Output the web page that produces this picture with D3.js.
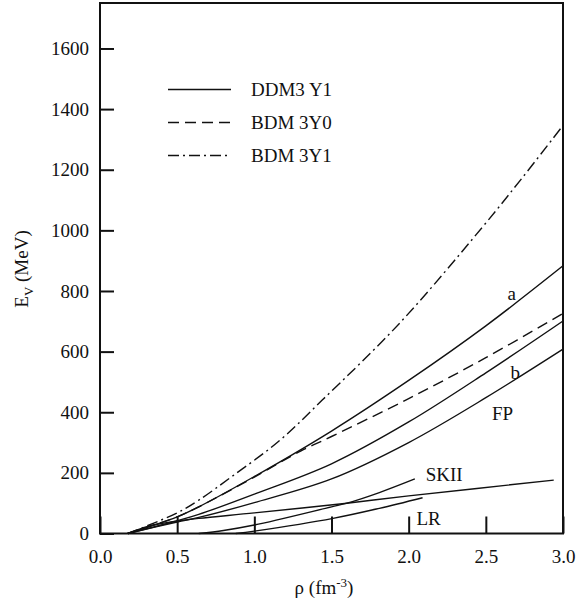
<!DOCTYPE html>
<html>
<head>
<meta charset="utf-8">
<script src="https://cdn.jsdelivr.net/npm/d3@7"></script>
<style>
  body { margin: 0; background: #fff; }
  svg { font-family: "Liberation Serif", "DejaVu Serif", serif; }
  .curve { fill: none; stroke: #111; stroke-width: 1.4; }
  .tick text { font-size: 19px; fill: #111; font-family: "Liberation Serif", serif; }
  .tick line { stroke: #111; stroke-width: 2; }
</style>
</head>
<body>
<svg id="main-svg" width="577" height="600"></svg>
<script>
// values: density rho (fm^-3) and E_V (MeV)
const aRho = [0.18, 0.5, 0.64, 1.0, 1.5, 2.0, 2.5, 3.0];
const aE   = [0, 55, 88, 188, 338, 505, 685, 883];

const bRho = [0.18, 0.5, 0.64, 1.0, 1.5, 2.0, 2.5, 3.0];
const bE   = [0, 42, 63, 130, 230, 368, 530, 701];

const fpRho = [0.18, 0.5, 0.64, 1.0, 1.5, 2.0, 2.5, 3.0];
const fpE   = [0, 38, 53, 102, 180, 300, 448, 608];

const bdm0Rho = [0.18, 0.5, 0.64, 1.0, 1.3, 1.5, 2.0, 2.5, 3.0];
const bdm0E   = [0, 55, 88, 186, 272, 320, 445, 580, 726];

const bdm1Rho = [0.18, 0.5, 0.64, 0.86, 1.16, 1.44, 1.94, 2.48, 2.74, 3.0];
const bdm1E   = [0, 68, 110, 190, 305, 440, 693, 1012, 1176, 1346];

const flatRho = [0.18, 0.32, 0.5, 0.64, 1.0, 1.6, 2.0, 2.94];
const flatE   = [0, 25, 41, 50, 68, 100, 124, 176];

const skiiRho = [0.64, 0.8, 1.0, 1.5, 1.6, 1.81, 2.04];
const skiiE   = [0, 10, 28, 88, 100, 135, 180];

const lrRho = [0.88, 1.0, 1.51, 1.81, 2.09];
const lrE   = [0, 8, 50, 83, 118];

const xTicks = [0, 0.5, 1.0, 1.5, 2.0, 2.5, 3.0];
const yTicks = [0, 200, 400, 600, 800, 1000, 1200, 1400, 1600];

const legendNames = ["DDM3 Y1", "BDM 3Y0", "BDM 3Y1"];
const legendDash = [null, "11,6", "11,4,2,4"];

const curveLabels = [
  { text: "a", rho: 2.64, e: 770 },
  { text: "b", rho: 2.66, e: 510 },
  { text: "FP", rho: 2.54, e: 375 },
  { text: "SKII", rho: 2.11, e: 172 },
  { text: "LR", rho: 2.05, e: 28 }
];

const svg = d3.select("#main-svg");

const x = d3.scaleLinear().domain([0, 3]).range([100, 563]);
const y = d3.scaleLinear().domain([0, 1750]).range([533.5, 3]);

const zip = (xs, ys) => xs.map((v, i) => [v, ys[i]]);

const series = [
  { pts: zip(aRho, aE), dash: null },
  { pts: zip(bRho, bE), dash: null },
  { pts: zip(fpRho, fpE), dash: null },
  { pts: zip(flatRho, flatE), dash: null },
  { pts: zip(skiiRho, skiiE), dash: null },
  { pts: zip(lrRho, lrE), dash: null },
  { pts: zip(bdm0Rho, bdm0E), dash: "11,6" },
  { pts: zip(bdm1Rho, bdm1E), dash: "11,4,2,4" }
];

const line = d3.line()
  .x(d => x(d[0]))
  .y(d => y(d[1]))
  .curve(d3.curveCatmullRom.alpha(0.5));

svg.append("g").selectAll("path")
  .data(series)
  .enter()
  .append("path")
  .attr("class", "curve")
  .attr("d", d => line(d.pts))
  .attr("stroke-dasharray", d => d.dash);

// axes, ticks pointing inward
const xAxis = d3.axisBottom(x)
  .tickValues(xTicks)
  .tickFormat(d3.format(".1f"))
  .tickSize(-17)
  .tickPadding(16);

const gx = svg.append("g")
  .attr("transform", `translate(0,${y(0)})`)
  .call(xAxis)
  .attr("font-family", null)
  .attr("font-size", null);
gx.select(".domain").remove();

const yAxis = d3.axisLeft(y)
  .tickValues(yTicks)
  .tickFormat(d3.format("d"))
  .tickSize(-14)
  .tickPadding(11);

const gy = svg.append("g")
  .attr("transform", `translate(${x(0)},0)`)
  .call(yAxis)
  .attr("font-family", null)
  .attr("font-size", null);
gy.select(".domain").remove();

// frame
svg.append("rect")
  .attr("x", x(0))
  .attr("y", y(1750))
  .attr("width", x(3) - x(0))
  .attr("height", y(0) - y(1750))
  .attr("fill", "none")
  .attr("stroke", "#111")
  .attr("stroke-width", 2);

// legend
const legend = svg.append("g");
legendNames.forEach((name, i) => {
  const ly = 89.5 + i * 33;
  legend.append("line")
    .attr("x1", 168).attr("x2", 231)
    .attr("y1", ly).attr("y2", ly)
    .attr("stroke", "#111")
    .attr("stroke-width", 1.4)
    .attr("stroke-dasharray", legendDash[i]);
  legend.append("text")
    .attr("x", 251).attr("y", ly)
    .attr("dy", "0.35em")
    .attr("font-size", 19)
    .attr("fill", "#111")
    .text(name);
});

// curve labels
svg.append("g").selectAll("text")
  .data(curveLabels)
  .enter()
  .append("text")
  .attr("x", d => x(d.rho))
  .attr("y", d => y(d.e))
  .attr("font-size", 19)
  .attr("fill", "#111")
  .text(d => d.text);

// axis titles
const xt = svg.append("text")
  .attr("x", 324).attr("y", 594)
  .attr("text-anchor", "middle")
  .attr("font-size", 19)
  .attr("fill", "#111");
xt.append("tspan").text("ρ (fm");
xt.append("tspan").attr("dy", -7).attr("font-size", 13).text("-3");
xt.append("tspan").attr("dy", 7).text(")");

const yt = svg.append("text")
  .attr("transform", "translate(28,269) rotate(-90)")
  .attr("text-anchor", "middle")
  .attr("font-size", 19)
  .attr("fill", "#111");
yt.append("tspan").text("E");
yt.append("tspan").attr("dy", 5).attr("font-size", 13).text("V");
yt.append("tspan").attr("dy", -5).text(" (MeV)");
</script>
</body>
</html>
